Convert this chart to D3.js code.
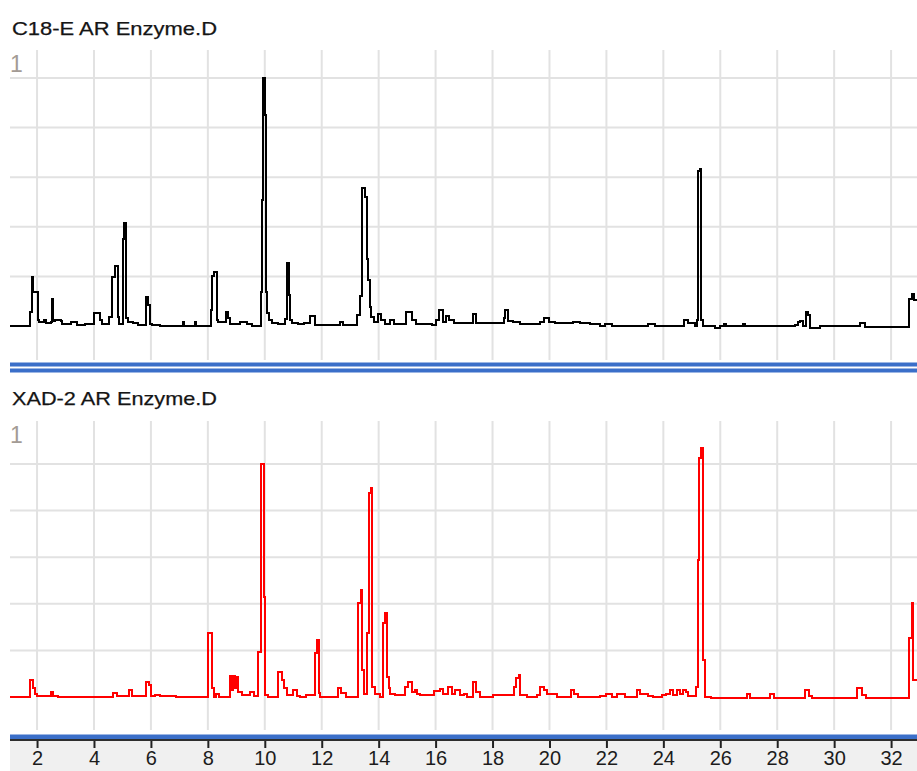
<!DOCTYPE html>
<html>
<head>
<meta charset="utf-8">
<script src="https://cdn.jsdelivr.net/npm/d3@7"></script>
<style>
	body{ margin:0; background:#fff; }
	svg{ display:block; font-family:"Liberation Sans", Arial, sans-serif; }
</style>
</head>
<body>
<svg id="chart" width="917" height="771"></svg>
<script>
/*
	Two stacked chromatograms (retention time in minutes, normalised signal)
*/
const titles = ["C18-E AR Enzyme.D", "XAD-2 AR Enzyme.D"];
const xTicks = [2, 4, 6, 8, 10, 12, 14, 16, 18, 20, 22, 24, 26, 28, 30, 32];
const gridLevels = [0.2, 0.4, 0.6, 0.8, 1.0];

// C18-E trace, each value holds until the next time
const c18Time = [1.05, 1.754, 1.807, 1.860, 2.018, 2.070, 2.246, 2.316, 2.492, 2.527,
	2.562, 2.632, 2.843, 2.878, 3.194, 3.405, 3.686, 4.002, 4.213, 4.283,
	4.529, 4.634, 4.740, 4.828, 4.880, 5.003, 5.056, 5.126, 5.196, 5.372,
	5.548, 5.829, 5.899, 5.969, 6.040, 6.320, 7.111, 7.163, 7.532, 7.585,
	8.094, 8.129, 8.217, 8.305, 8.358, 8.639, 8.709, 8.779, 9.131, 9.376,
	9.552, 9.851, 9.903, 9.931, 9.991, 10.026, 10.079, 10.149, 10.254, 10.465,
	10.711, 10.764, 10.834, 10.887, 10.957, 11.168, 11.378, 11.589, 11.765, 12.643,
	12.748, 13.240, 13.346, 13.416, 13.504, 13.574, 13.626, 13.679, 13.732, 13.837,
	13.960, 14.083, 14.224, 14.399, 14.540, 14.961, 15.172, 15.312, 15.874, 16.015,
	16.120, 16.261, 16.366, 16.472, 16.647, 17.297, 17.420, 18.386, 18.421, 18.526,
	18.720, 18.965, 19.668, 19.808, 19.984, 20.195, 20.827, 21.073, 21.424, 21.776,
	21.951, 22.197, 23.462, 23.707, 24.726, 24.867, 25.113, 25.165, 25.200, 25.288,
	25.323, 25.393, 25.815, 25.990, 26.131, 26.201, 26.798, 26.869, 28.625, 28.730,
	28.800, 28.906, 28.994, 29.082, 29.134, 29.503, 30.908, 31.084, 32.629, 32.717,
	32.805, 32.91];
const c18Signal = [0, 0.056, 0.198, 0.137, 0.024, 0.016, 0.024, 0.012, 0.016, 0.109,
	0.020, 0.024, 0.020, 0.008, 0.016, 0.004, 0.008, 0.052, 0.024, 0.008,
	0.036, 0.198, 0.242, 0.036, 0.008, 0.351, 0.415, 0.032, 0.016, 0.012,
	0.004, 0.117, 0.085, 0.008, 0.004, 0, 0.016, 0, 0.016, 0,
	0.065, 0.202, 0.218, 0.024, 0.016, 0.056, 0.032, 0.008, 0.016, 0.008,
	0, 0.137, 0.508, 1.000, 0.851, 0.137, 0.052, 0.024, 0.012, 0.008,
	0.028, 0.254, 0.125, 0.024, 0.012, 0.008, 0.012, 0.040, 0.004, 0.016,
	0.004, 0.044, 0.121, 0.556, 0.520, 0.270, 0.185, 0.077, 0.036, 0.016,
	0.048, 0.024, 0.008, 0.024, 0.008, 0.056, 0.024, 0.008, 0.004, 0.024,
	0.065, 0.016, 0.040, 0.024, 0.012, 0.048, 0.012, 0.032, 0.065, 0.020,
	0.016, 0.008, 0.016, 0.032, 0.016, 0.012, 0.016, 0.012, 0.008, 0,
	0.008, 0, 0.008, 0, 0.024, 0.012, 0, 0.024, 0.625, 0.633,
	0.024, 0, -0.008, 0, 0.008, 0, 0.008, 0, 0.004, 0.016,
	0.020, 0, 0.056, 0.044, -0.008, 0, 0.012, -0.004, 0.109, 0.129,
	0.105, 0.105];

// XAD-2 trace
const xadTime = [1.05, 1.754, 1.860, 1.930, 2.000, 2.474, 2.562, 2.738, 4.670, 4.810,
	5.231, 5.337, 5.829, 5.916, 6.004, 6.145, 6.320, 6.882, 8.006, 8.129,
	8.217, 8.288, 8.393, 8.762, 8.832, 8.867, 8.937, 8.972, 9.060, 9.201,
	9.482, 9.605, 9.745, 9.868, 9.956, 10.009, 10.114, 10.465, 10.606, 10.676,
	10.781, 10.992, 11.133, 11.238, 11.449, 11.747, 11.835, 11.888, 11.941, 12.555,
	12.678, 12.854, 13.275, 13.363, 13.416, 13.469, 13.591, 13.651, 13.714, 13.777,
	13.872, 14.048, 14.136, 14.224, 14.283, 14.346, 14.399, 14.575, 14.926, 15.042,
	15.162, 15.277, 15.348, 15.453, 15.945, 16.156, 16.261, 16.437, 16.577, 16.682,
	16.858, 16.998, 17.104, 17.314, 17.420, 17.560, 18.017, 18.737, 18.825, 18.913,
	18.965, 19.211, 19.563, 19.650, 19.808, 19.914, 20.265, 20.757, 20.862, 21.003,
	21.776, 21.986, 22.197, 22.373, 22.654, 23.075, 23.181, 23.462, 23.637, 23.953,
	24.094, 24.234, 24.339, 24.480, 24.585, 24.691, 24.796, 24.867, 25.148, 25.207,
	25.263, 25.323, 25.383, 25.463, 25.674, 26.939, 27.044, 27.747, 27.887, 28.976,
	29.117, 29.222, 30.803, 30.978, 31.119, 32.629, 32.735, 32.787, 32.91];
const xadSignal = [0, 0.073, 0.039, 0.013, 0.004, 0.021, 0.004, 0, 0.017, 0.004,
	0.030, 0.004, 0.064, 0.052, 0.004, 0.009, 0.004, 0, 0.275, 0.039,
	0, 0.013, 0, 0.090, 0.030, 0.090, 0.039, 0.086, 0.021, 0.009,
	0.021, 0.004, 0.193, 1.0, 0.429, 0.009, 0, 0.107, 0.073, 0.039,
	0.009, 0.030, 0.004, 0, 0.009, 0.189, 0.245, 0.017, 0, 0.039,
	0.017, 0, 0.403, 0.459, 0.116, 0.013, 0.275, 0.876, 0.897, 0.043,
	0.013, 0, 0.318, 0.361, 0.086, 0.039, 0.013, 0.009, 0.043, 0.064,
	0.021, 0.030, 0.013, 0.009, 0.026, 0.034, 0.013, 0.043, 0.013, 0.030,
	0.009, 0.013, 0, 0.064, 0.021, 0, 0.009, 0.043, 0.082, 0.094,
	0.009, 0, 0.009, 0.043, 0.030, 0.013, 0, 0.030, 0.013, 0,
	0.004, 0.013, 0, 0.013, 0, 0.030, 0.013, 0.004, 0, 0.009,
	0.013, 0.030, 0.009, 0.030, 0.013, 0.030, 0.021, 0.004, 0.043, 0.588,
	1.026, 1.069, 0.159, 0, -0.004, 0.013, -0.004, 0.013, -0.004, 0.030,
	0.004, -0.004, 0.039, 0.009, -0.004, 0.253, 0.403, 0.073, 0.073];

const W = 917, LEFT = 10;
const svg = d3.select("#chart");
const xScale = d3.scaleLinear().domain([1.05, 32.91]).range([LEFT, W]);

const panels = [
	{title: titles[0], time: c18Time, signal: c18Signal, color: "#000000",
	 top: 50, bottom: 360, zeroY: 326, oneY: 78, titleY: 35, labelY: 72},
	{title: titles[1], time: xadTime, signal: xadSignal, color: "#ff0000",
	 top: 421, bottom: 730, zeroY: 697, oneY: 464, titleY: 405, labelY: 443}
];

svg.append("defs").selectAll("clipPath").data(panels).enter().append("clipPath")
	.attr("id", (d, i) => "clip" + i)
	.append("rect")
	.attr("x", LEFT).attr("y", d => d.top)
	.attr("width", W - LEFT).attr("height", d => d.bottom - d.top);

panels.forEach((p, i) => {
	const yScale = d3.scaleLinear().domain([0, 1]).range([p.zeroY, p.oneY]);
	const g = svg.append("g");

	// grid
	g.selectAll(".vgrid").data(xTicks).enter().append("line")
		.attr("x1", d => xScale(d)).attr("x2", d => xScale(d))
		.attr("y1", p.top).attr("y2", p.bottom)
		.attr("stroke", "#e2e2e2").attr("stroke-width", 2);
	g.selectAll(".hgrid").data(gridLevels).enter().append("line")
		.attr("x1", LEFT).attr("x2", W)
		.attr("y1", d => yScale(d)).attr("y2", d => yScale(d))
		.attr("stroke", "#e2e2e2").attr("stroke-width", 2);

	// titles
	g.append("text")
		.attr("x", 12).attr("y", p.titleY)
		.attr("font-size", 19)
		.attr("textLength", 205).attr("lengthAdjust", "spacingAndGlyphs")
		.attr("fill", "#151515")
		.attr("stroke", "#151515").attr("stroke-width", 0.25)
		.text(p.title);
	g.append("text")
		.attr("x", 10).attr("y", p.labelY)
		.attr("font-size", 23)
		.attr("fill", "#a39b95")
		.text("1");

	// trace
	const line = d3.line()
		.x(d => xScale(d[0]))
		.y(d => yScale(d[1]))
		.curve(d3.curveStepAfter);
	g.append("path")
		.datum(d3.zip(p.time, p.signal))
		.attr("clip-path", "url(#clip" + i + ")")
		.attr("fill", "none")
		.attr("stroke", p.color)
		.attr("stroke-width", 2)
		.attr("shape-rendering", "crispEdges")
		.attr("d", line);
});

// blue separators
const sep = [{y: 362.5, h: 4, c: "#3b6fc9"}, {y: 368.5, h: 4, c: "#3b6fc9"},
	{y: 734.5, h: 4.5, c: "#3b6fc9"}, {y: 739, h: 2, c: "#2e2e2e"}];
svg.selectAll(".sep").data(sep).enter().append("rect")
	.attr("x", LEFT).attr("width", W - LEFT)
	.attr("y", d => d.y).attr("height", d => d.h)
	.attr("fill", d => d.c);

// time axis strip
svg.append("rect")
	.attr("x", LEFT).attr("y", 741).attr("width", W - LEFT).attr("height", 30)
	.attr("fill", "#f0f0f0");

const axis = svg.append("g")
	.attr("transform", "translate(0,741)")
	.call(d3.axisBottom(xScale).tickValues(xTicks).tickSize(7).tickSizeOuter(0).tickPadding(3));
axis.select(".domain").remove();
axis.selectAll(".tick line").attr("stroke", "#222").attr("stroke-width", 2);
axis.selectAll(".tick text")
	.attr("font-size", 20)
	.attr("font-family", "Liberation Sans, Arial, sans-serif")
	.attr("fill", "#1c1c1c");
</script>
</body>
</html>
